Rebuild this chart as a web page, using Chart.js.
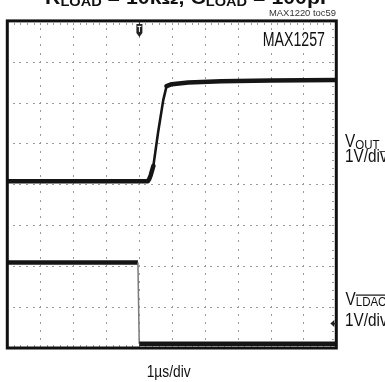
<!DOCTYPE html>
<html>
<head>
<meta charset="utf-8">
<script src="https://cdn.jsdelivr.net/npm/chart.js@4/dist/chart.umd.min.js"></script>
<style>
  html, body { margin: 0; padding: 0; background: #fff; overflow: hidden; }
  #wrap { position: relative; width: 385px; height: 382px; }
</style>
</head>
<body>
<div id="wrap"><canvas id="scope" width="385" height="382"></canvas></div>
<script>
// Scope screen: 10 horizontal divisions (1 µs/div), 8 vertical divisions (1 V/div).
const divsX = 10;
const divsY = 8;

// VOUT_ trace (time in µs, level in divisions above the bottom graticule line)
const voutTime  = [0, 4.27, 4.31, 4.36, 4.44, 4.58, 4.74, 4.84, 5.0, 5.5, 6.5, 8.0, 10];
const voutLevel = [4.07, 4.07, 4.12, 4.22, 4.45, 5.25, 6.06, 6.40, 6.45, 6.49, 6.52, 6.54, 6.55];

// LDAC trace
const ldacTime  = [0, 3.97, 4.01, 10];
const ldacLevel = [2.08, 2.08, 0.09, 0.09];

// trigger position (µs) and LDAC channel ground reference (divisions)
const triggerTime = 4;
const ldacGround = 0.59;

const FONT = "'Liberation Sans Narrow','Liberation Sans',Arial,sans-serif";

const toPoints = (xs, ys) => xs.map((x, i) => ({ x, y: ys[i] }));
const steep = (c) => Math.abs((c.p1.parsed.y - c.p0.parsed.y) / ((c.p1.parsed.x - c.p0.parsed.x) || 1e-6)) > 3;

// draw a run of text pieces [text, size, dy] horizontally scaled by sx
function runs(ctx, pieces, x, y, weight, sx) {
  let cx = x;
  for (const [s, size, dy] of pieces) {
    ctx.save();
    ctx.font = `${weight} ${size}px ${FONT}`;
    const w = ctx.measureText(s).width * sx;
    ctx.translate(cx, y + dy);
    ctx.scale(sx, 1);
    ctx.fillText(s, 0, 0);
    ctx.restore();
    cx += w;
  }
  return cx;
}
function natural(ctx, pieces, weight) {
  let w = 0;
  for (const [s, size] of pieces) { ctx.font = `${weight} ${size}px ${FONT}`; w += ctx.measureText(s).width; }
  return w;
}

const graticule = {
  id: 'graticule',
  beforeDatasetsDraw(chart) {
    const { ctx, chartArea: a } = chart;
    const xs = chart.scales.x, ys = chart.scales.y;
    ctx.save();
    ctx.fillStyle = '#9a9a9a';
    // dotted vertical lines
    for (let i = 1; i < divsX; i++) {
      const px = Math.round(xs.getPixelForValue(i));
      for (let j = 1; j < divsY * 5; j++) {
        const py = Math.round(ys.getPixelForValue(j / 5));
        ctx.fillRect(px, py - 1, 1, 2);
      }
    }
    // dotted horizontal lines
    for (let j = 1; j < divsY; j++) {
      const py = Math.round(ys.getPixelForValue(j));
      for (let i = 1; i < divsX * 5; i++) {
        const px = Math.round(xs.getPixelForValue(i / 5));
        ctx.fillRect(px - 1, py, 2, 1);
      }
    }
    // minor ticks just inside the frame
    for (let i = 1; i < divsX * 5; i++) {
      const px = Math.round(xs.getPixelForValue(i / 5));
      ctx.fillRect(px, Math.round(a.top) + 2, 1, 2);
      ctx.fillRect(px, Math.round(a.bottom) - 3, 1, 2);
    }
    for (let j = 1; j < divsY * 5; j++) {
      const py = Math.round(ys.getPixelForValue(j / 5));
      ctx.fillRect(Math.round(a.right) - 4, py, 2, 1);
    }
    ctx.restore();
  },
  afterDatasetsDraw(chart) {
    const { ctx, chartArea: a } = chart;
    const xs = chart.scales.x, ys = chart.scales.y;
    ctx.save();
    // frame
    ctx.strokeStyle = '#111';
    ctx.lineWidth = 3;
    ctx.strokeRect(a.left, a.top, a.right - a.left, a.bottom - a.top + 0.5);
    // trigger marker
    const tx = xs.getPixelForValue(triggerTime) + 0.5;
    const ty = a.top;
    ctx.fillStyle = '#222';
    ctx.beginPath();
    ctx.moveTo(tx - 3, ty + 3);
    ctx.lineTo(tx + 3, ty + 3);
    ctx.lineTo(tx + 3, ty + 12);
    ctx.lineTo(tx, ty + 16);
    ctx.lineTo(tx - 3, ty + 12);
    ctx.closePath();
    ctx.fill();
    ctx.fillRect(tx - 0.5, ty, 1, 3);
    ctx.fillStyle = '#fff';
    ctx.fillRect(tx - 2, ty + 5, 4, 1);
    ctx.fillRect(tx - 0.5, ty + 5, 1, 6);
    // LDAC ground marker
    const gy = ys.getPixelForValue(ldacGround);
    const gx = a.right - 6;
    ctx.fillStyle = '#222';
    ctx.beginPath();
    ctx.moveTo(gx, gy);
    ctx.lineTo(gx + 4, gy - 3.5);
    ctx.lineTo(gx + 4, gy + 3.5);
    ctx.closePath();
    ctx.fill();
    ctx.fillRect(gx + 3, gy - 0.5, 3, 1.5);
    ctx.restore();
  },
  afterDraw(chart) {
    const { ctx } = chart;
    ctx.save();
    ctx.fillStyle = '#111';
    ctx.textBaseline = 'alphabetic';

    // heading (runs off the top edge)
    const head = [['R', 19, 0], ['LOAD', 13, 2.5], [' = 10kΩ, C', 19, 0], ['LOAD', 13, 2.5], [' = 100pF', 19, 0]];
    runs(ctx, head, 45, 3.5, 'bold', 288 / natural(ctx, head, 'bold'));

    // figure code
    ctx.fillStyle = '#333';
    const code = [['MAX1220 toc59', 9.5, 0]];
    runs(ctx, code, 269, 15.5, 'normal', 67 / natural(ctx, code, 'normal'));

    ctx.fillStyle = '#111';
    // part number
    const part = [['MAX1257', 20, 0]];
    runs(ctx, part, 262.7, 46, 'normal', 62.3 / natural(ctx, part, 'normal'));

    // time base
    const tb = [['1µs/div', 17, 0]];
    const sx = 44 / natural(ctx, tb, 'normal');
    runs(ctx, tb, 146.7, 377, 'normal', sx);

    // channel labels
    const sz = 18;
    const sxl = sx * 1.05;
    runs(ctx, [['V', sz, 0], ['OUT_', 13.5, 1.5]], 345, 147, 'normal', sxl);
    runs(ctx, [['1V/div', sz, 0]], 345, 161.5, 'normal', sxl);

    const vEnd = runs(ctx, [['V', sz, 0]], 345.5, 304.5, 'normal', sxl);
    const lEnd = runs(ctx, [['LDAC', 13.5, 1.5]], vEnd, 304.5, 'normal', sxl);
    ctx.fillRect(vEnd, 294.5, lEnd - vEnd, 1.2);
    runs(ctx, [['1V/div', sz, 0]], 345, 325.5, 'normal', sxl);
    ctx.restore();
  }
};

new Chart(document.getElementById('scope'), {
  type: 'line',
  data: {
    datasets: [
      {
        label: 'VOUT_',
        data: toPoints(voutTime, voutLevel),
        borderColor: '#151515',
        borderWidth: 4.5,
        pointRadius: 0,
        tension: 0,
        borderJoinStyle: 'round',
        borderCapStyle: 'round',
        segment: {
          borderWidth: c => steep(c) ? 2.6 : undefined
        }
      },
      {
        label: 'LDAC',
        data: toPoints(ldacTime, ldacLevel),
        borderColor: '#151515',
        borderWidth: 4.5,
        pointRadius: 0,
        tension: 0,
        borderCapStyle: 'butt',
        segment: {
          borderWidth: c => steep(c) ? 1.5 : undefined,
          borderColor: c => steep(c) ? '#7a7a7a' : undefined
        }
      }
    ]
  },
  options: {
    responsive: false,
    animation: false,
    devicePixelRatio: 1,
    layout: { padding: { left: 7.3, right: 48.7, top: 20.9, bottom: 34.5 } },
    plugins: { legend: { display: false }, tooltip: { enabled: false }, title: { display: false } },
    scales: {
      x: { type: 'linear', min: 0, max: divsX, display: false },
      y: { type: 'linear', min: 0, max: divsY, display: false }
    }
  },
  plugins: [graticule]
});
</script>
</body>
</html>
